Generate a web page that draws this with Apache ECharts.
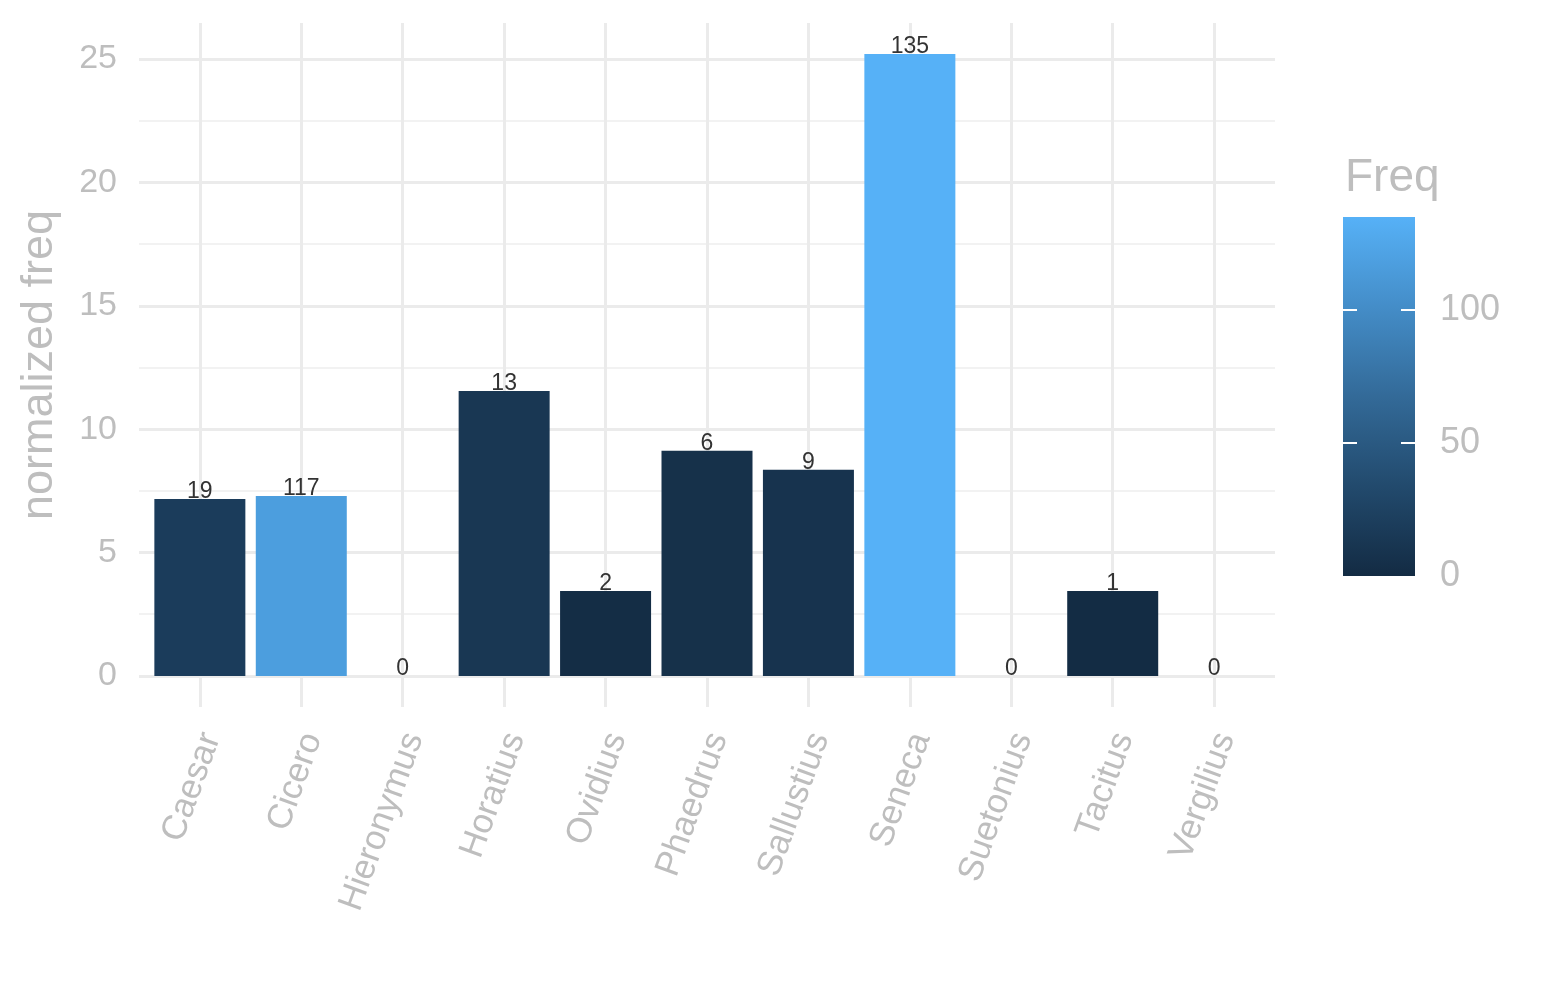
<!DOCTYPE html>
<html>

<head>
    <meta charset="utf-8">
    <title>normalized freq</title>
    <script src="https://cdn.jsdelivr.net/npm/echarts@6/dist/echarts.min.js"></script>
    <style>
        body { margin: 0; background: #fff; }
    </style>
</head>

<body>
    <div id="main" style="width: 1545px;height:1000px;"></div>

    <script type="text/javascript">

        // data
        var authors = ['Caesar', 'Cicero', 'Hieronymus', 'Horatius', 'Ovidius', 'Phaedrus',
            'Sallustius', 'Seneca', 'Suetonius', 'Tacitus', 'Vergilius'];
        var normFreq = [7.17, 7.29, 0, 11.55, 3.44, 9.12, 8.35, 25.2, 0, 3.44, 0];
        var freq = [19, 117, 0, 13, 2, 6, 9, 135, 0, 1, 0];
        var yTicks = [0, 5, 10, 15, 20, 25];
        var yMinor = [2.5, 7.5, 12.5, 17.5, 22.5];
        var legendTicks = [0, 50, 100];

        var gradColors = ['#132B43', '#224A6D', '#336A98', '#448DC8', '#56B1F7'];
        var textGrey = '#BEBEBE';
        var freqMax = Math.max.apply(null, freq);
        var yMax = Math.max.apply(null, normFreq);

        var chart = echarts.init(document.getElementById('main'));

        var barData = authors.map(function (a, i) {
            return [i, normFreq[i], freq[i]];
        });

        var gridLines = [];
        yTicks.forEach(function (v) {
            gridLines.push({ yAxis: v, lineStyle: { color: '#EBEBEB', width: 3, type: 'solid' } });
        });
        yMinor.forEach(function (v) {
            gridLines.push({ yAxis: v, lineStyle: { color: '#F2F2F2', width: 2, type: 'solid' } });
        });
        authors.forEach(function (a, i) {
            gridLines.push({ xAxis: i, lineStyle: { color: '#EBEBEB', width: 3, type: 'solid' } });
        });

        var option = {
            animation: false,
            backgroundColor: '#fff',
            textStyle: { fontFamily: 'Liberation Sans, Arial, sans-serif' },
            title: {
                text: 'Freq',
                left: 1340,
                top: 150,
                textStyle: { color: textGrey, fontSize: 46, fontWeight: 'normal', fontFamily: 'Liberation Sans' }
            },
            grid: [
                { left: 139, right: 270, top: 23, bottom: 293 },
                { left: 1343, top: 217, width: 72, height: 359 }
            ],
            xAxis: [{
                type: 'value',
                gridIndex: 0,
                min: -0.6,
                max: authors.length - 1 + 0.6,
                axisLine: { show: false },
                axisTick: { show: false },
                splitLine: { show: false },
                axisLabel: {
                    customValues: authors.map(function (a, i) { return i; }),
                    formatter: function (v) { return authors[Math.round(v)]; },
                    rotate: 70,
                    margin: 23,
                    verticalAlign: 'top',
                    lineHeight: 24,
                    fontSize: 35,
                    color: textGrey
                }
            }, {
                type: 'category',
                gridIndex: 1,
                data: ['Freq'],
                show: false
            }],
            yAxis: [{
                type: 'value',
                gridIndex: 0,
                min: -0.05 * yMax,
                max: yMax * 1.05,
                axisLine: { show: false },
                axisTick: { show: false },
                splitLine: { show: false },
                axisLabel: {
                    customValues: yTicks,
                    margin: 22,
                    fontSize: 34,
                    color: textGrey
                },
                name: 'normalized freq',
                nameLocation: 'middle',
                nameRotate: 90,
                nameGap: 77,
                nameTextStyle: { fontSize: 45, color: textGrey }
            }, {
                type: 'value',
                gridIndex: 1,
                position: 'right',
                z: 5,
                min: 0,
                max: freqMax,
                axisLine: { show: false },
                splitLine: { show: false },
                axisTick: {
                    show: true,
                    inside: true,
                    length: 14,
                    customValues: [50, 100],
                    lineStyle: { color: '#fff', width: 2 }
                },
                axisLabel: {
                    customValues: legendTicks,
                    margin: 25,
                    fontSize: 36,
                    color: textGrey
                }
            }, {
                type: 'value',
                gridIndex: 1,
                position: 'left',
                z: 5,
                min: 0,
                max: freqMax,
                axisLine: { show: false },
                splitLine: { show: false },
                axisLabel: { show: false },
                axisTick: {
                    show: true,
                    inside: true,
                    length: 14,
                    customValues: [50, 100],
                    lineStyle: { color: '#fff', width: 2 }
                }
            }],
            visualMap: {
                show: false,
                type: 'continuous',
                seriesIndex: 0,
                dimension: 2,
                min: 0,
                max: freqMax,
                inRange: { color: gradColors }
            },
            series: [{
                type: 'bar',
                xAxisIndex: 0,
                yAxisIndex: 0,
                z: 3,
                barWidth: 91,
                data: barData,
                label: {
                    show: true,
                    position: 'top',
                    distance: -4,
                    fontSize: 23,
                    color: '#333',
                    formatter: function (p) { return p.data[2]; }
                }
            }, {
                // background grid lines
                type: 'line',
                xAxisIndex: 0,
                yAxisIndex: 0,
                z: 0,
                data: [],
                markLine: {
                    silent: true,
                    z: 0,
                    symbol: 'none',
                    label: { show: false },
                    animation: false,
                    data: gridLines
                }
            }, {
                // colour bar
                type: 'bar',
                xAxisIndex: 1,
                yAxisIndex: 1,
                barWidth: '100%',
                z: 1,
                data: [freqMax],
                itemStyle: {
                    color: new echarts.graphic.LinearGradient(0, 1, 0, 0, gradColors.map(function (c, i) {
                        return { offset: i / (gradColors.length - 1), color: c };
                    }))
                }
            }]
        };

        chart.setOption(option);

    </script>
</body>

</html>
